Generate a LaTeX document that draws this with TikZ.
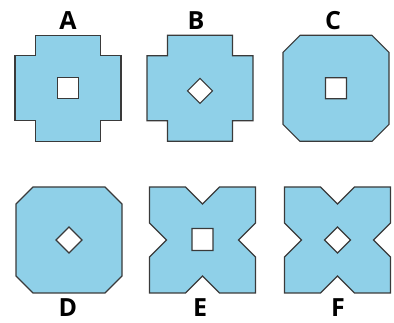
\documentclass[tikz,border=0pt]{standalone}
\usepackage{fontspec}
\setmainfont{Open Sans}
\begin{document}
\begin{tikzpicture}[x=1pt,y=-1pt,
  tile/.style={fill=tilefill,draw=tileline,line width=1.1pt,line join=miter,even odd rule},
  lab/.style={font=\bfseries\fontsize{25}{25}\selectfont,text=black,inner sep=0pt}]
\definecolor{tilefill}{HTML}{8FD0E8}
\definecolor{tileline}{HTML}{3A3A3A}
\useasboundingbox (0,0) rectangle (394,323);
\tikzset{
  pics/crosssq/.style={code={\path[tile] (-32.5,-53)--(32.5,-53)--(32.5,-32.5)--(53,-32.5)--(53,32.5)--(32.5,32.5)--(32.5,53)--(-32.5,53)--(-32.5,32.5)--(-53,32.5)--(-53,-32.5)--(-32.5,-32.5)--cycle #1;}},
  pics/octa/.style={code={\path[tile] (-36,-53)--(36,-53)--(53,-36)--(53,36)--(36,53)--(-36,53)--(-53,36)--(-53,-36)--cycle #1;}},
  pics/xshape/.style={code={\path[tile] (-53,-53)--(-17,-53)--(0,-36)--(17,-53)--(53,-53)--(53,-17)--(36,0)--(53,17)--(53,53)--(17,53)--(0,36)--(-17,53)--(-53,53)--(-53,17)--(-36,0)--(-53,-17)--cycle #1;}}
}
\def\sqhole{(-10.5,-10.5) rectangle (10.5,10.5)}
\def\dmhole{(0,-13)--(13,0)--(0,13)--(-13,0)--cycle}
\pic at (68,88.3) {crosssq={\sqhole}};
\pic at (200,88.3) {crosssq={(0,-10)--(12.5,2.5)--(0,15)--(-12.5,2.5)--cycle}};
\pic at (336,88.3) {octa={\sqhole}};
\pic at (69,240) {octa={\dmhole}};
\pic at (202.5,240) {xshape={(-10.5,-11.5) rectangle (10.5,10.5)}};
\pic at (337.5,240) {xshape={\dmhole}};
\node[lab] (A) at (68,21) {A};
\node[lab] (B) at (196,21) {B};
\node[lab] (C) at (333,21) {C};
\node[lab] (D) at (68,308) {D};
\node[lab] (E) at (200,308) {E};
\node[lab] (F) at (338,308) {F};
\end{tikzpicture}
\end{document}
